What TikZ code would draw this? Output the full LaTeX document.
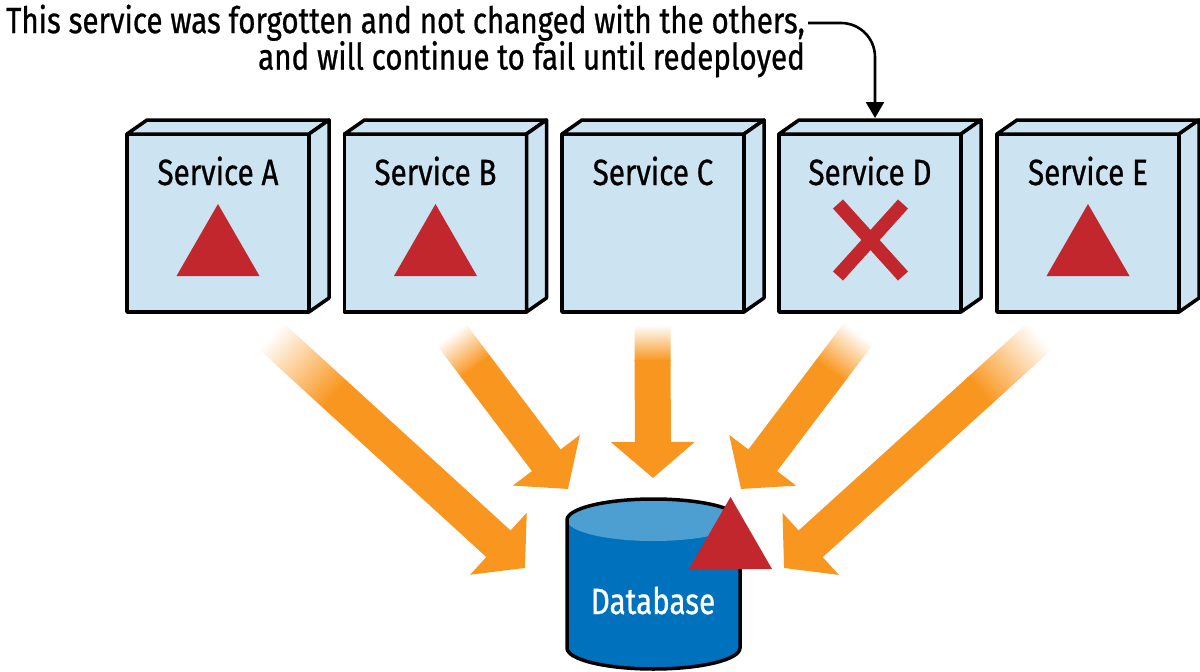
\documentclass[tikz,border=0pt]{standalone}
\usepackage{fontspec}
\setmainfont[FakeStretch=0.81,FakeBold=0.7]{Fira Sans}
\usetikzlibrary{arrows.meta,calc}
\definecolor{boxblue}{HTML}{CCE3F1}
\definecolor{dbblue}{HTML}{0071BC}
\definecolor{dbtop}{HTML}{4D9FD2}
\definecolor{alertred}{HTML}{C1272D}
\definecolor{flowor}{HTML}{F9961F}
\tikzset{
    svcbox/.style={draw, line width=3.5pt, line join=round, fill=boxblue, minimum width=182pt, minimum height=178pt, inner sep=0pt, outer sep=0pt},
    svcside/.style={draw, line width=3.5pt, line join=round, fill=boxblue},
    svctext/.style={anchor=base, inner sep=0pt, font=\fontsize{36.5}{38}\selectfont},
    note/.style={anchor=east, align=right, inner sep=0pt, font=\fontsize{36.5}{36.5}\selectfont},
    flow/.style={flowor, line width=36pt, -{Triangle[length=36pt,width=82pt]}},
    warnmark/.pic={\fill[alertred] (-41.5,36) -- (0,-36) -- (41.5,36) -- cycle;}
}
\begin{document}
\begin{tikzpicture}[x=1pt, y=-1pt]
    \useasboundingbox (0,0) rectangle (1200,672);

    % services
    \foreach \n/\x in {A/218, B/435.5, C/653, D/870, E/1088}{
        \node[svcbox] (svc\n) at (\x,223) {};
        \draw[svcside] (svc\n.north west) -- ++(20,-14) -- ++(182,0) -- ++(-20,14) -- cycle;
        \draw[svcside] (svc\n.north east) -- ++(20,-14) -- ++(0,178) -- ++(-20,14) -- cycle;
        \node[svctext] (lbl\n) at (\x,185) {Service \n};
    }
    \foreach \n in {A, B, E}{
        \pic at (svc\n |- 0,240) {warnmark};
    }

    \draw[alertred, line width=13.5pt] (838,204) -- (903,276);
    \draw[alertred, line width=13.5pt] (903,204) -- (838,276);

    % database
    \fill[dbblue] (567,520) -- (567,648) arc[start angle=180, end angle=0, x radius=86.5, y radius=21] -- (740,520) -- cycle;
    \fill[dbtop] (653.5,520) ellipse[x radius=86.5, y radius=21];
    \draw[line width=3.5pt] (567,520) arc[start angle=180, end angle=360, x radius=86.5, y radius=21] -- (740,648) arc[start angle=0, end angle=180, x radius=86.5, y radius=21] -- cycle;
    \node[svctext, text=white] (dbname) at (653,614) {Database};
    \pic at (730.5,533) {warnmark};

    % flows
    \coordinate (fromA) at (270.5,335.5);  \coordinate (toA) at (525,568);
    \coordinate (fromB) at (451,334);      \coordinate (toB) at (568,489);
    \coordinate (fromC) at (652.5,325);    \coordinate (toC) at (653,478);
    \coordinate (fromD) at (859,333);      \coordinate (toD) at (741,489);
    \coordinate (fromE) at (1040,336);     \coordinate (toE) at (784,568);
    \foreach \n/\len in {A/86, B/40, C/35, D/47, E/81}{
        \pgfmathanglebetweenpoints{\pgfpointanchor{from\n}{center}}{\pgfpointanchor{to\n}{center}}
        \let\ang\pgfmathresult
        \begin{scope}[transform canvas={shift={(from\n)}, rotate=\ang}]
            \shade[left color=white, right color=flowor] (0,-18) rectangle (\len+1,18);
        \end{scope}
        \draw[flow] ($(from\n)!\len pt!(to\n)$) -- (to\n);
    }

    % note
    \node[note] (forgot) at (805,41) {This service was forgotten and not changed with the others,\\and will continue to fail until redeployed};
    \coordinate (noteend) at (808,23);
    \coordinate (notetip) at (875,118);
    \draw[line width=2.6pt, rounded corners=34pt, -{Triangle[length=16pt,width=18pt]}] (noteend) -| (notetip);
\end{tikzpicture}
\end{document}
